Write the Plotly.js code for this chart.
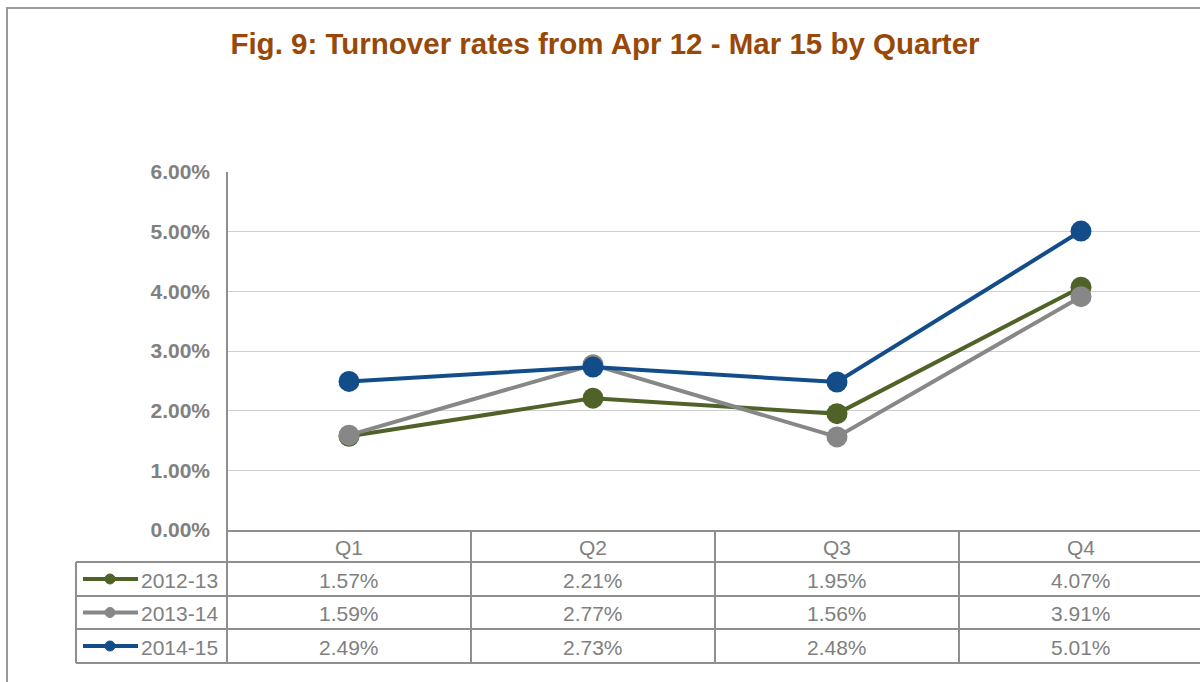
<!DOCTYPE html>
<html><head><meta charset="utf-8">
<script src="https://cdn.plot.ly/plotly-3.0.1.min.js"></script>
<style>html,body{margin:0;padding:0;background:#fff;}#chart{width:1200px;height:682px;}</style>
</head><body><div id="chart"></div>
<script>
const quarters = ["Q1", "Q2", "Q3", "Q4"];
const seriesNames = ["2012-13", "2013-14", "2014-15"];
const v2012 = [1.57, 2.21, 1.95, 4.07];
const v2013 = [1.59, 2.77, 1.56, 3.91];
const v2014 = [2.49, 2.73, 2.48, 5.01];
const seriesColors = ["#4f6228", "#878787", "#124d8a"];
const yTicks = [0, 1, 2, 3, 4, 5, 6];
const titleText = "Fig. 9: Turnover rates from Apr 12 - Mar 15 by Quarter";

const values = [v2012, v2013, v2014];
const W = 1200, H = 682;
const px = x => x / W;
const py = y => 1 - y / H;
const FONT = "Liberation Sans, Arial, sans-serif";
const GRAY = "#808080";
const LINEC = "#8f8f8f";
const TFS = 21;

const plotL = 227, plotTop = 172, plotBot = 530, catW = 244;
const rangeMax = -0.5 + (W - plotL) / catW;

const traces = values.map((vals, i) => ({
  type: "scatter", mode: "lines+markers",
  x: quarters, y: vals, name: seriesNames[i],
  line: {color: seriesColors[i], width: 4},
  marker: {color: seriesColors[i], size: 21},
  showlegend: false, cliponaxis: false
}));

const shapes = [];
const annotations = [];
function hline(x0, x1, y, c, w) { shapes.push({type: "line", xref: "paper", yref: "paper", x0: px(x0), x1: px(x1), y0: py(y), y1: py(y), line: {color: c || LINEC, width: w || 2}}); }
function vline(x, y0, y1, c, w) { shapes.push({type: "line", xref: "paper", yref: "paper", x0: px(x), x1: px(x), y0: py(y0), y1: py(y1), line: {color: c || LINEC, width: w || 2}}); }

// outer frame
shapes.push({type: "rect", xref: "paper", yref: "paper", x0: px(7), x1: px(1215), y0: py(8), y1: py(700), line: {color: "#9a9a9a", width: 2}, layer: "below"});

// data table
const rowY = [531, 562, 596, 629, 663];
hline(plotL, W + 5, rowY[0]);
for (let r = 1; r < rowY.length; r++) hline(76, W + 5, rowY[r]);
vline(76, rowY[1], rowY[4]);
vline(plotL, plotTop, rowY[4]);
for (let c = 1; c < quarters.length; c++) vline(plotL + c * catW, rowY[0], rowY[4]);

quarters.forEach((q, c) => {
  annotations.push({xref: "paper", yref: "paper", x: px(plotL + (c + 0.5) * catW), y: py((rowY[0] + rowY[1]) / 2 + 1), text: q, showarrow: false, xanchor: "center", yanchor: "middle", font: {family: FONT, size: TFS, color: GRAY}});
});
values.forEach((vals, r) => {
  const yc = (rowY[r + 1] + rowY[r + 2]) / 2 + 1;
  vals.forEach((v, c) => {
    annotations.push({xref: "paper", yref: "paper", x: px(plotL + (c + 0.5) * catW), y: py(yc), text: v.toFixed(2) + "%", showarrow: false, xanchor: "center", yanchor: "middle", font: {family: FONT, size: TFS, color: GRAY}});
  });
  // legend key
  shapes.push({type: "line", xref: "paper", yref: "paper", x0: px(83), x1: px(138), y0: py(yc - 1), y1: py(yc - 1), line: {color: seriesColors[r], width: 4}});
  shapes.push({type: "circle", xref: "paper", yref: "paper", x0: px(105), x1: px(115), y0: py(yc - 6), y1: py(yc + 4), fillcolor: seriesColors[r], line: {color: seriesColors[r], width: 1}});
  annotations.push({xref: "paper", yref: "paper", x: px(139), y: py(yc), text: seriesNames[r], showarrow: false, xanchor: "left", yanchor: "middle", font: {family: FONT, size: TFS, color: GRAY}});
});

const layout = {
  width: W, height: H,
  margin: {l: 0, r: 0, t: 0, b: 0},
  paper_bgcolor: "#ffffff", plot_bgcolor: "#ffffff",
  title: {text: "<b>" + titleText + "</b>", x: px(605), xanchor: "center", y: py(44), yanchor: "middle", font: {family: FONT, size: 29.5, color: "#984807"}},
  xaxis: {type: "category", domain: [px(plotL), 1], range: [-0.5, rangeMax], showticklabels: false, showgrid: false, zeroline: false, showline: false, fixedrange: true},
  yaxis: {domain: [py(plotBot), py(plotTop)], range: [0, 6], tickvals: yTicks, ticktext: yTicks.map(t => t.toFixed(2) + "%"),
    showgrid: true, gridcolor: "#d0d0d0", gridwidth: 1, zeroline: false, showline: false,
    ticklabelstandoff: 16, tickfont: {family: FONT, size: 21, color: GRAY, weight: "bold"}},
  shapes: shapes, annotations: annotations, showlegend: false
};

Plotly.newPlot("chart", traces, layout, {displayModeBar: false, staticPlot: true});
</script></body></html>
